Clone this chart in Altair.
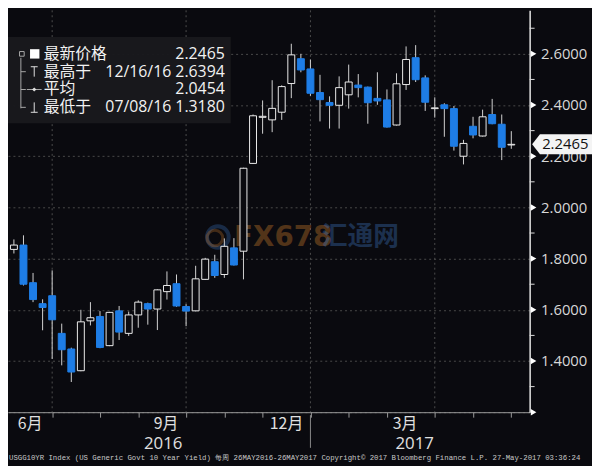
import altair as alt
import pandas as pd

# Weekly OHLC of USGG10YR, 26 May 2016 - 26 May 2017
opens = [1.836, 1.853, 1.706, 1.624, 1.655, 1.508, 1.447, 1.362, 1.557, 1.574,
         1.460, 1.596, 1.508, 1.580, 1.624, 1.603, 1.671, 1.702, 1.613, 1.596,
         1.719, 1.788, 1.738, 1.842, 1.829, 2.172, 2.352, 2.342, 2.372, 2.484,
         2.581, 2.541, 2.449, 2.410, 2.399, 2.440, 2.478, 2.470, 2.426, 2.420,
         2.322, 2.480, 2.585, 2.506, 2.386, 2.401, 2.386, 2.200, 2.317, 2.279,
         2.363, 2.325, 2.244]
highs = [1.875, 1.891, 1.744, 1.641, 1.754, 1.546, 1.452, 1.600, 1.630, 1.595,
         1.592, 1.615, 1.593, 1.637, 1.628, 1.680, 1.750, 1.738, 1.622, 1.772,
         1.803, 1.815, 1.879, 1.880, 2.155, 2.363, 2.418, 2.497, 2.477, 2.6394,
         2.600, 2.578, 2.518, 2.434, 2.512, 2.558, 2.521, 2.472, 2.528, 2.461,
         2.524, 2.629, 2.634, 2.516, 2.430, 2.407, 2.396, 2.264, 2.354, 2.382,
         2.424, 2.363, 2.298]
lows = [1.820, 1.695, 1.630, 1.520, 1.408, 1.383, 1.318, 1.360, 1.539, 1.450,
        1.458, 1.482, 1.498, 1.530, 1.542, 1.521, 1.640, 1.612, 1.536, 1.594,
        1.717, 1.725, 1.725, 1.773, 1.719, 2.170, 2.288, 2.294, 2.342, 2.427,
        2.528, 2.436, 2.336, 2.308, 2.308, 2.386, 2.430, 2.327, 2.401, 2.312,
        2.320, 2.459, 2.490, 2.377, 2.351, 2.276, 2.222, 2.168, 2.270, 2.277,
        2.325, 2.185, 2.229]
closes = [1.853, 1.700, 1.640, 1.609, 1.561, 1.444, 1.357, 1.553, 1.569, 1.453,
          1.590, 1.513, 1.580, 1.630, 1.603, 1.678, 1.695, 1.615, 1.595, 1.721,
          1.798, 1.734, 1.848, 1.775, 2.153, 2.358, 2.356, 2.387, 2.472, 2.596,
          2.537, 2.446, 2.421, 2.399, 2.468, 2.490, 2.468, 2.409, 2.416, 2.314,
          2.483, 2.578, 2.499, 2.411, 2.389, 2.386, 2.239, 2.250, 2.283, 2.354,
          2.327, 2.235, 2.2465]

month_end_bars = [4, 9, 13, 18, 22, 26, 31, 35, 39, 44, 48, 52]
quarter_bars = [4, 18, 31, 44]
month_labels = ["6月", "9月", "12月", "3月"]
month_label_pos = [1.7, 15.9, 28.5, 40.9]
year_labels = ["2016", "2017"]
year_label_pos = [15.6, 41.9]
year_break = [31]
y_major = [1.2, 1.4, 1.6, 1.8, 2.0, 2.2, 2.4, 2.6]
y_minor = [1.3, 1.5, 1.7, 1.9, 2.1, 2.3, 2.5, 2.7]
last_price = [2.2465]
last_price_text = ["2.2465"]
legend_names = ["最新价格", "最高于", "平均", "最低于"]
legend_values = ["2.2465", "12/16/16 2.6394", "2.0454", "07/08/16 1.3180"]
footer_text = ["USGG10YR Index (US Generic Govt 10 Year Yield)  每周 26MAY2016-26MAY2017 "
               "Copyright© 2017 Bloomberg Finance L.P. 27-May-2017 03:36:24"]

BG = "#0a0a0f"
BLUE = "#1e7de6"
W, H = 527, 406

df = pd.DataFrame({"i": list(range(len(opens))), "open": opens, "high": highs,
                   "low": lows, "close": closes})

xscale = alt.Scale(domain=[-0.1, 53.4], nice=False, zero=False)
yscale = alt.Scale(domain=[1.2, 2.77], nice=False, zero=False)
xaxis = alt.Axis(values=month_end_bars, labels=False, ticks=True, tickSize=5,
                 tickColor="#9a9a9a", domainColor="#9a9a9a", domainWidth=1,
                 grid=False, title=None)
yaxis = alt.Axis(orient="right", values=y_major, format=".4f",
                 labelExpr="datum.value < 1.3 ? '' : datum.label",
                 grid=True, gridColor="#4a4a4a", gridDash=[2, 3], tickSize=0,
                 domainColor="#e6e6e6", domainWidth=1.5, labelFont="Open Sans",
                 labelFontSize=15, labelColor="#d8d8d8", labelPadding=11, title=None)


def X(f):
    return alt.X(f, type="quantitative", scale=xscale, axis=xaxis)


def Y(f):
    return alt.Y(f, type="quantitative", scale=yscale, axis=yaxis)


def one(t=""):
    return pd.DataFrame({"t": [t]})


layers = []

# vertical dotted quarter gridlines
layers.append(alt.Chart(pd.DataFrame({"q": quarter_bars})).mark_rule(
    color="#4d4d4d", strokeDash=[2, 3], strokeWidth=1).encode(x=X("q")))

# watermark
layers.append(alt.Chart(one()).mark_point(shape="circle", filled=False, size=480,
                                          stroke="#3a6fb5", strokeWidth=4, opacity=0.33)
              .encode(x=alt.value(212), y=alt.value(229)))
layers.append(alt.Chart(one()).mark_point(shape="circle", filled=False, size=250,
                                          stroke="#c8782a", strokeWidth=3, opacity=0.3)
              .encode(x=alt.value(209), y=alt.value(230)))
layers.append(alt.Chart(one("FX678")).mark_text(font="DejaVu Sans", fontWeight="bold",
                                                fontSize=28, color="#c8782a", opacity=0.38)
              .encode(x=alt.value(278), y=alt.value(230), text="t:N"))
layers.append(alt.Chart(one("汇通网")).mark_text(font="Noto Sans CJK SC", fontWeight="bold",
                                              fontSize=26, color="#3a6fb5", opacity=0.38)
              .encode(x=alt.value(356), y=alt.value(229), text="t:N"))

# candles
up = "datum.close >= datum.open"
layers.append(alt.Chart(df).mark_rule(color="#d2d2d2", strokeWidth=1).encode(
    x=X("i"), y=Y("low"), y2=alt.Y2("high")))
layers.append(alt.Chart(df).mark_bar(width=7, strokeWidth=1, orient="vertical").encode(
    x=X("i"), y=Y("open"), y2=alt.Y2("close"),
    fill=alt.condition(up, alt.value(BG), alt.value(BLUE)),
    stroke=alt.condition(up, alt.value("#ececec"), alt.value(BLUE))))

# legend box
layers.append(alt.Chart(one()).mark_rect(fill="#19191d", opacity=0.97).encode(
    x=alt.value(0), x2=alt.value(225), y=alt.value(27), y2=alt.value(114)))
row_y = [44, 62, 80, 98]
for k in range(4):
    layers.append(alt.Chart(one(legend_names[k])).mark_text(
        font="Noto Sans CJK SC", fontSize=16, color="#f2f2f2", align="left",
        baseline="middle").encode(x=alt.value(36), y=alt.value(row_y[k]), text="t:N"))
    layers.append(alt.Chart(one(legend_values[k])).mark_text(
        font="Open Sans", fontSize=16, color="#f2f2f2", align="right",
        baseline="middle").encode(x=alt.value(219), y=alt.value(row_y[k]), text="t:N"))

GRAY = "#a8a8a8"
# tree connector
layers.append(alt.Chart(one()).mark_rule(color=GRAY, strokeWidth=1).encode(
    x=alt.value(13), y=alt.value(48), y2=alt.value(99)))
for yy in [62, 80, 98]:
    layers.append(alt.Chart(one()).mark_rule(color=GRAY, strokeWidth=1).encode(
        x=alt.value(13), x2=alt.value(18), y=alt.value(yy)))
# icons
layers.append(alt.Chart(one()).mark_point(shape="square", filled=False, size=22,
                                          stroke=GRAY, strokeWidth=1, opacity=1)
              .encode(x=alt.value(14), y=alt.value(44)))
layers.append(alt.Chart(one()).mark_point(shape="square", filled=True, size=90,
                                          color="#ffffff", opacity=1)
              .encode(x=alt.value(27), y=alt.value(44)))
layers.append(alt.Chart(one()).mark_rule(color="#e0e0e0", strokeWidth=1).encode(
    x=alt.value(23), x2=alt.value(30), y=alt.value(57)))
layers.append(alt.Chart(one()).mark_rule(color="#e0e0e0", strokeWidth=1).encode(
    x=alt.value(26.5), y=alt.value(57), y2=alt.value(67)))
layers.append(alt.Chart(one()).mark_rule(color=GRAY, strokeWidth=1).encode(
    x=alt.value(19), x2=alt.value(34), y=alt.value(80)))
layers.append(alt.Chart(one()).mark_point(shape="diamond", filled=True, size=18,
                                          color="#e0e0e0", opacity=1)
              .encode(x=alt.value(26.5), y=alt.value(80)))
layers.append(alt.Chart(one()).mark_rule(color="#e0e0e0", strokeWidth=1).encode(
    x=alt.value(26.5), y=alt.value(93), y2=alt.value(103)))
layers.append(alt.Chart(one()).mark_rule(color="#e0e0e0", strokeWidth=1).encode(
    x=alt.value(23), x2=alt.value(30), y=alt.value(103)))

# right axis decorations
layers.append(alt.Chart(pd.DataFrame({"v": y_minor})).mark_rule(
    color="#dddddd", strokeWidth=1).encode(x=alt.value(W), x2=alt.value(W + 5), y=Y("v")))
layers.append(alt.Chart(pd.DataFrame({"v": y_major})).mark_point(
    shape="triangle-right", filled=True, size=42, color="#ffffff", opacity=1).encode(
    x=alt.value(W + 4), y=Y("v")))

# last price box
box_path = "M -1 0 L -0.74 -0.33 L 1 -0.33 L 1 0.33 L -0.74 0.33 Z"
layers.append(alt.Chart(pd.DataFrame({"v": last_price})).mark_point(
    shape=box_path, filled=True, size=3721, color="#f4f4f4", opacity=1).encode(
    x=alt.value(W + 33), y=Y("v")))
layers.append(alt.Chart(pd.DataFrame({"v": last_price, "t": last_price_text})).mark_text(
    font="Open Sans", fontSize=15, color="#111111", align="center", baseline="middle").encode(
    x=alt.value(W + 36), y=Y("v"), text="t:N"))

# bottom axis labels
layers.append(alt.Chart(pd.DataFrame({"p": month_label_pos, "t": month_labels})).mark_text(
    font="Noto Sans CJK SC", fontSize=16, color="#e0e0e0", baseline="middle").encode(
    x=X("p"), y=alt.value(418), text="t:N"))
layers.append(alt.Chart(pd.DataFrame({"p": year_label_pos, "t": year_labels})).mark_text(
    font="Open Sans", fontSize=17, color="#e0e0e0", baseline="middle").encode(
    x=X("p"), y=alt.value(438.5), text="t:N"))
layers.append(alt.Chart(pd.DataFrame({"p": year_break})).mark_rule(
    color="#8a8a8a", strokeWidth=1).encode(x=X("p"), y=alt.value(409), y2=alt.value(442)))

# footer
layers.append(alt.Chart(pd.DataFrame({"t": footer_text})).mark_text(
    font="Liberation Mono", fontSize=7.4, color="#c8c8c8", align="left",
    baseline="middle").encode(x=alt.value(1), y=alt.value(452), text="t:N"))

chart = alt.layer(*layers).properties(
    width=W, height=H,
    padding={"left": 0, "top": 0, "right": 63, "bottom": 52},
    autosize=alt.AutoSizeParams(type="none"),
).configure(background=BG).configure_view(stroke=None)

chart.save("out.html", embed_options={"renderer": "svg", "actions": False})
